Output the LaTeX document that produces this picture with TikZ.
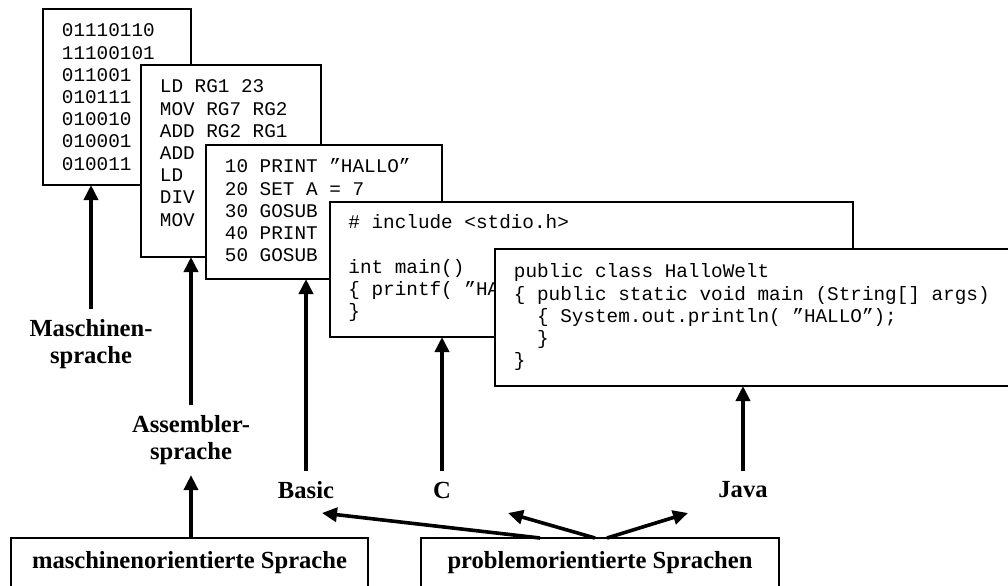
\documentclass[tikz,border=0pt]{standalone}
\usepackage{fontspec}
\setmainfont{Liberation Serif}
\setmonofont{Liberation Mono}
\usetikzlibrary{arrows.meta,
	positioning,
	calc}

\begin{document}
\begin{tikzpicture}[x=0.5pt,y=-0.5pt,
	box/.style={draw,line width=1pt,fill=white,inner sep=0pt,outer sep=0pt,anchor=north west},
	code/.style={anchor=north west,align=left,inner sep=0pt,font={\fontsize{9.67pt}{11.1pt}\selectfont\ttfamily}},
	lbl/.style={align=center,inner sep=2pt,font={\fontsize{12.3pt}{13.5pt}\selectfont\bfseries}},
	pfeil/.style={line width=1.8pt,-{Triangle[width=7pt,length=7.5pt]}}]
	\useasboundingbox (0,0) rectangle (1008,585);
	\clip (0,0) rectangle (1008,585);
	\node[box,minimum width=74pt,minimum height=88pt] (mbox) at (43,9) {};
	\node[code] (mtext) at (61.5,21) {\strut 01110110\\11100101\\011001\\010111\\010010\\010001\\010011};
	\node[box,minimum width=90pt,minimum height=96pt] (abox) at (141,65) {};
	\node[code] (atext) at (159.5,77) {\strut LD RG1 23\\MOV RG7 RG2\\ADD RG2 RG1\\ADD\\LD\\DIV\\MOV};
	\node[box,minimum width=118pt,minimum height=67pt] (bbox) at (206,145) {};
	\node[code] (btext) at (224.5,157) {\strut 10 PRINT ”HALLO”\\20 SET A = 7\\30 GOSUB\\40 PRINT\\50 GOSUB};
	\node[box,minimum width=261.5pt,minimum height=67.5pt] (cbox) at (330,202) {};
	\node[code] (ctext) at (348,213) {\strut\# include <stdio.h>\\\mbox{}\\int main()\\\{ printf( ”HA\\\}};
	\node[box,minimum width=262pt,minimum height=68.5pt] (jbox) at (495,249) {};
	\node[code] (jtext) at (513.5,262) {\strut public class HalloWelt\\\{ public static void main (String[] args)\\~~\{ System.out.println( ”HALLO”);\\~~\}\\\}};
	\node[lbl] (mlbl) at (91,344) {Maschinen-\\sprache};
	\node[lbl] (albl) at (191,440) {Assembler-\\sprache};
	\node[lbl] (blbl) at (306,490) {Basic};
	\node[lbl] (clbl) at (442,490) {C};
	\node[lbl] (jlbl) at (743,490) {Java};
	\node[box,lbl,inner sep=0pt,minimum width=178.5pt,minimum height=25pt] (mobox) at (11,538) {maschinenorientierte Sprache};
	\node[box,lbl,inner sep=0pt,minimum width=179pt,minimum height=25pt] (pobox) at (421,538) {problemorientierte Sprachen};
	\coordinate (zb) at (322,513);
	\coordinate (zc) at (508,513);
	\coordinate (zj) at (688,513);
	\draw[pfeil,shorten <=3pt] (mlbl.north) -- (mlbl.north |- mbox.south);
	\draw[pfeil,shorten <=3pt] (albl.north) -- (albl.north |- abox.south);
	\draw[pfeil,shorten <=3pt] (blbl.north) -- (blbl.north |- bbox.south);
	\draw[pfeil,shorten <=3pt] (clbl.north) -- (clbl.north |- cbox.south);
	\draw[pfeil,shorten <=3pt] (jlbl.north) -- (jlbl.north |- jbox.south);
	\draw[pfeil,shorten >=3pt] (albl.south |- mobox.north) -- (albl.south);
	\draw[pfeil] ([xshift=-30pt]pobox.north) -- (zb);
	\draw[pfeil] ([xshift=-2.5pt]pobox.north) -- (zc);
	\draw[pfeil] ([xshift=3.5pt]pobox.north) -- (zj);
\end{tikzpicture}
\end{document}
